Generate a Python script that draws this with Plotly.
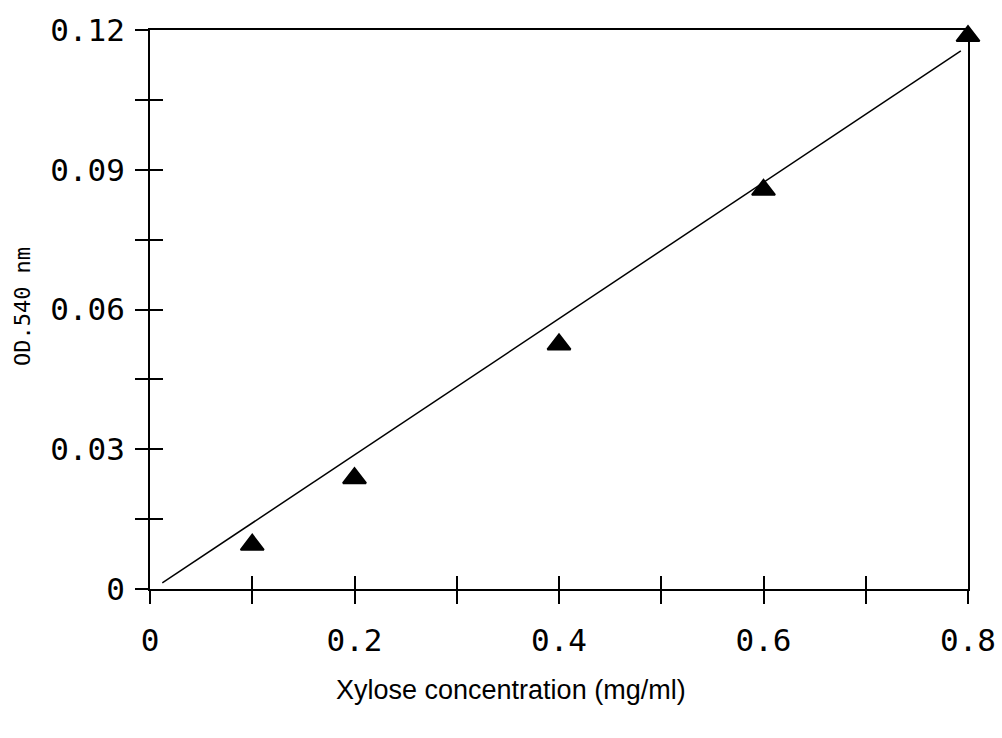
import plotly.graph_objects as go

# Data
xylose = [0.1, 0.2, 0.4, 0.6, 0.8]
od540 = [0.0095, 0.0238, 0.0525, 0.0857, 0.1187]
fit_x = [0.012, 0.793]
fit_y = [0.0013, 0.1155]

x_tickvals = [0, 0.1, 0.2, 0.3, 0.4, 0.5, 0.6, 0.7, 0.8]
x_ticktext = ["0", "", "0.2", "", "0.4", "", "0.6", "", "0.8"]
y_tickvals = [0, 0.015, 0.03, 0.045, 0.06, 0.075, 0.09, 0.105, 0.12]
y_ticktext = ["0", "", "0.03", "", "0.06", "", "0.09", "", "0.12"]

tick_font = dict(family="DejaVu Sans Mono", size=31, color="black")

fig = go.Figure()
fig.add_trace(go.Scatter(x=fit_x, y=fit_y, mode="lines",
                         line=dict(color="black", width=1.5),
                         showlegend=False, hoverinfo="skip"))
fig.add_trace(go.Scatter(x=xylose, y=od540, mode="markers",
                         marker=dict(symbol="triangle-up", size=20, color="black",
                                     line=dict(color="black", width=2)),
                         cliponaxis=False, showlegend=False))

common = dict(showgrid=False, zeroline=False, automargin=False,
              tickcolor="black", tickwidth=2, ticklen=13)

fig.update_layout(
    width=1002, height=738,
    margin=dict(l=150, r=34, t=30, b=149),
    paper_bgcolor="white", plot_bgcolor="white",
    xaxis=dict(range=[0, 0.8], tickvals=x_tickvals, ticktext=x_ticktext,
               ticks="outside", showline=True, mirror=True,
               linecolor="black", linewidth=2,
               tickfont=tick_font, ticklabelstandoff=10, **common),
    yaxis=dict(range=[0, 0.12], tickvals=y_tickvals, ticktext=y_ticktext,
               ticks="outside", showline=True, mirror=True,
               linecolor="black", linewidth=2,
               tickfont=tick_font, ticklabelstandoff=4, **common),
    xaxis2=dict(range=[0, 0.8], tickvals=x_tickvals, overlaying="x",
                ticks="inside", showticklabels=False, showline=False,
                side="bottom", anchor="y", **common),
    yaxis2=dict(range=[0, 0.12], tickvals=y_tickvals, overlaying="y",
                ticks="inside", showticklabels=False, showline=False,
                side="left", anchor="x", **common),
    annotations=[
        dict(text="Xylose concentration (mg/ml)", xref="paper", yref="paper",
             x=0.441, y=-0.181, xanchor="center", yanchor="middle", showarrow=False,
             font=dict(family="Liberation Sans", size=27, color="black")),
        dict(text="OD.540 nm", xref="paper", yref="paper",
             x=-0.156, y=0.505, xanchor="center", yanchor="middle", showarrow=False,
             textangle=-90,
             font=dict(family="DejaVu Sans Mono", size=22, color="black")),
    ],
)
# invisible trace that activates the secondary (inside-tick) axes
fig.add_trace(go.Scatter(x=[0], y=[0], xaxis="x2", yaxis="y2", mode="markers",
                         marker=dict(opacity=0), showlegend=False, hoverinfo="skip"))

fig.write_html("out.html")
